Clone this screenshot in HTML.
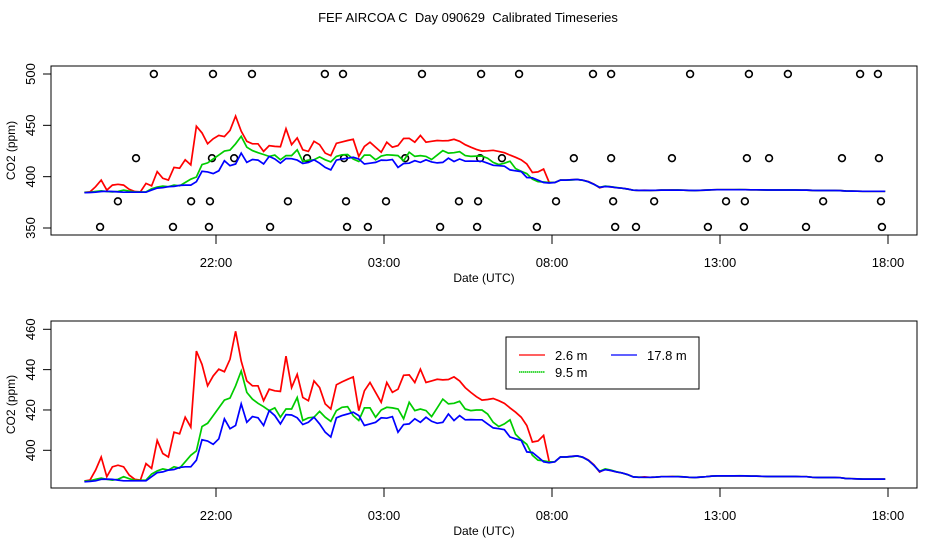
<!DOCTYPE html>
<html><head><meta charset="utf-8"><style>
html,body{margin:0;padding:0;background:#fff;}
svg{display:block;font-family:"Liberation Sans",sans-serif;}
</style></head><body>
<svg id="chart" width="936" height="540" viewBox="0 0 936 540" xmlns="http://www.w3.org/2000/svg">
<text x="468" y="22" font-size="13" text-anchor="middle" style="white-space:pre" xml:space="preserve">FEF AIRCOA C  Day 090629  Calibrated Timeseries</text>
<g id="top"></g>
<g id="bot"></g>
</svg>
<script>
// time grid: hours since 17:00 of first day
const startHour = 1.0833;
const stepHour = 1 / 6;
const xTickHours = [5, 10, 15, 20, 25];
const xTickLabels = ["22:00", "03:00", "08:00", "13:00", "18:00"];
const topYTicks = [350, 400, 450, 500];
const botYTicks = [400, 420, 440, 460];
const seriesNames = ["2.6 m", "9.5 m", "17.8 m"];

const red = [384.8,385.2,390.2,396.7,386.9,391.8,392.6,391.8,387.7,385.6,385.2,393.4,391.0,404.9,398.4,396.7,409.0,408.2,416.4,411.5,
449.2,442.6,432.0,436.9,440.2,439.0,445.1,459.0,444.3,434.4,432.0,432.0,424.6,430.3,429.5,429.2,446.7,431.1,437.7,426.2,
424.6,434.4,431.1,423.0,420.5,432.5,433.9,435.2,436.4,419.7,429.5,433.6,428.7,423.8,433.6,428.7,430.3,437.2,437.4,433.6,
440.2,433.6,434.4,435.2,434.9,435.1,436.4,434.4,431.1,428.7,426.6,424.9,425.2,425.7,424.6,423.3,421.0,418.9,416.4,412.3,
404.1,404.6,407.4,394.3,394.3,396.7,396.7,397.0,397.2,396.6,395.2,392.8,389.2,390.6,390.0,389.3,388.8,388.0,386.8,386.6,
386.8,386.6,386.7,386.9,386.9,387.0,386.9,386.8,386.6,386.5,386.7,386.9,387.2,387.3,387.3,387.3,387.3,387.3,387.3,387.2,
387.2,387.1,387.0,387.0,387.0,387.0,387.0,387.0,386.9,386.9,386.6,386.5,386.5,386.5,386.5,386.4,386.0,385.9,385.8,385.7,
385.7,385.7,385.7,385.7];
const green = [384.8,384.9,385.6,386.2,385.6,385.2,385.6,386.9,385.9,385.1,385.1,385.2,388.2,389.8,390.8,390.2,391.8,391.1,394.3,397.5,
399.7,411.8,413.4,417.2,421.0,424.9,425.9,432.0,439.3,428.7,425.4,423.3,421.6,419.7,421.0,416.4,420.5,420.5,426.2,414.8,
416.1,416.4,419.3,416.4,414.4,419.7,421.3,421.6,417.2,414.8,421.0,421.0,416.4,420.0,421.3,421.0,420.5,415.6,423.8,419.7,
420.5,419.7,416.7,421.0,425.4,423.0,423.3,424.3,420.5,419.7,420.0,420.0,418.0,413.9,411.8,413.1,415.1,407.9,405.2,403.0,
397.5,395.1,394.8,394.3,394.3,396.7,396.7,396.8,397.2,396.5,395.0,392.5,389.6,390.8,390.2,389.4,388.8,387.9,386.8,386.7,
386.6,386.6,386.7,386.9,386.9,386.9,387.0,386.8,386.6,386.5,386.7,386.9,387.2,387.3,387.3,387.3,387.3,387.4,387.3,387.2,
387.2,387.1,387.0,387.0,387.0,387.0,387.1,387.0,386.9,386.9,386.6,386.5,386.5,386.5,386.4,386.4,386.0,385.9,385.8,385.7,
385.7,385.7,385.7,385.7];
const blue = [384.4,384.6,384.9,385.6,385.7,385.6,385.2,384.9,384.9,384.9,384.9,384.9,386.9,388.9,389.3,390.2,390.5,391.5,391.8,391.8,
395.1,405.2,404.6,403.0,405.7,415.6,410.7,412.3,423.0,413.9,416.7,416.1,412.3,419.7,417.2,413.1,417.7,417.5,416.1,412.8,
413.9,416.4,413.1,409.0,406.6,416.1,417.2,418.0,418.9,417.2,412.3,413.1,413.9,416.1,415.9,416.7,409.0,412.8,413.1,415.6,
413.9,416.4,414.4,413.4,413.9,418.0,414.8,417.2,415.1,415.2,415.1,415.1,413.1,411.1,410.7,410.2,406.6,405.7,404.9,399.2,
398.9,396.7,394.3,393.8,394.3,396.7,396.7,397.0,397.2,396.6,395.0,392.5,389.5,390.4,390.0,389.3,388.8,388.0,386.8,386.6,
386.6,386.6,386.7,386.9,386.9,386.9,386.9,386.8,386.6,386.5,386.7,386.9,387.2,387.3,387.3,387.3,387.3,387.3,387.3,387.2,
387.2,387.1,387.0,387.0,387.0,387.0,387.0,387.0,386.9,386.9,386.6,386.5,386.5,386.5,386.5,386.4,386.0,385.9,385.8,385.7,
385.7,385.7,385.7,385.7];

// flag markers in top panel (hours since 17:00, ppm)
const flagHours = [3.15,4.91,6.07,8.24,8.78,11.13,12.89,14.02,16.22,16.76,19.11,20.86,22.02,24.17,24.70,
2.62,4.88,5.54,7.71,8.81,10.63,12.86,13.51,15.65,16.76,18.57,20.80,21.46,23.63,24.73,
2.08,4.26,4.82,7.14,8.87,10.06,12.23,12.80,15.12,16.82,18.04,20.18,20.74,23.07,24.79,
1.55,3.72,4.79,6.61,8.90,9.52,11.67,12.77,14.55,16.88,17.50,19.64,20.71,22.56,24.82];
const flagValues = [500,500,500,500,500,500,500,500,500,500,500,500,500,500,500,
418,418,418,418,418,418,418,418,418,418,418,418,418,418,418,
376,376,376,376,376,376,376,376,376,376,376,376,376,376,376,
351,351,351,351,351,351,351,351,351,351,351,351,351,351,351];

const NS = "http://www.w3.org/2000/svg";
const colors = ["#ff0000", "#00cc00", "#0000ff"];
const X0 = 51, X1 = 917;
function xScale(h) { return 216 + (h - 5) * 33.6; }
function mk(tag, attrs, parent) {
  const el = document.createElementNS(NS, tag);
  for (const k in attrs) el.setAttribute(k, attrs[k]);
  parent.appendChild(el);
  return el;
}

function panel(g, top, bottom, yScale, yTicks, withFlags, prefix) {
  const box = mk("rect", {x: X0, y: top, width: X1 - X0, height: bottom - top, fill: "none", stroke: "#000", "stroke-width": 1}, g);
  
  
  yTicks.forEach(v => {
    const y = yScale(v);
    const t = mk("line", {x1: X0 - 8, x2: X0, y1: y, y2: y, stroke: "#000"}, g);
    
    
    const lb = mk("text", {x: 0, y: 0, "font-size": 13, "text-anchor": "middle", transform: "translate(35," + y + ") rotate(-90)"}, g);
    lb.textContent = v;
    
    
  });
  const yl = mk("text", {x: 0, y: 0, "font-size": 12, "text-anchor": "middle", transform: "translate(15," + ((top + bottom) / 2) + ") rotate(-90)"}, g);
  yl.textContent = "CO2 (ppm)";
  
  
  xTickHours.forEach((h, i) => {
    const x = xScale(h);
    const t = mk("line", {x1: x, x2: x, y1: bottom, y2: bottom + 9, stroke: "#000"}, g);
    
    
    const lb = mk("text", {x: x, y: bottom + 32, "font-size": 13, "text-anchor": "middle"}, g);
    lb.textContent = xTickLabels[i];
    
    
  });
  const xl = mk("text", {x: 484, y: bottom + 47, "font-size": 12, "text-anchor": "middle"}, g);
  xl.textContent = "Date (UTC)";
  
  
  if (withFlags) {
    flagHours.forEach((h, i) => {
      const c = mk("circle", {cx: xScale(h), cy: yScale(flagValues[i]), r: 3.4, fill: "none", stroke: "#000", "stroke-width": 1.6}, g);
      
      
    });
  }
  [red, green, blue].forEach((s, si) => {
    const pts = s.map((v, k) => xScale(startHour + k * stepHour).toFixed(1) + "," + yScale(v).toFixed(1)).join(" ");
    const pl = mk("polyline", {points: pts, fill: "none", stroke: colors[si], "stroke-width": 1.7, "stroke-linejoin": "miter"}, g);
    
    
  });
}

const topY = v => 228 - (v - 350) * (154 / 150);
const botY = v => 450.3 - (v - 400) * (121 / 60);
panel(document.getElementById("top"), 66, 235, topY, topYTicks, true, "top");
panel(document.getElementById("bot"), 321, 488, botY, botYTicks, false, "bottom");

// legend
const bg = document.getElementById("bot");
const lg = mk("g", {}, bg);


const lr = mk("rect", {x: 506, y: 337, width: 193, height: 52, fill: "#fff", stroke: "#000"}, lg);


const legPos = [[519, 355], [519, 372], [611, 355]];
seriesNames.forEach((n, i) => {
  const [lx, ly] = legPos[i];
  const ln = mk("line", {x1: lx, x2: lx + 26, y1: ly, y2: ly, stroke: colors[i], "stroke-width": i === 1 ? 1.5 : 1.2, "stroke-dasharray": i === 1 ? "1.5,0.5" : "none"}, lg);
  
  
  const tx = mk("text", {x: lx + 36, y: ly + 5, "font-size": 13}, lg);
  tx.textContent = n;
  
  
});
</script>
</body></html>
